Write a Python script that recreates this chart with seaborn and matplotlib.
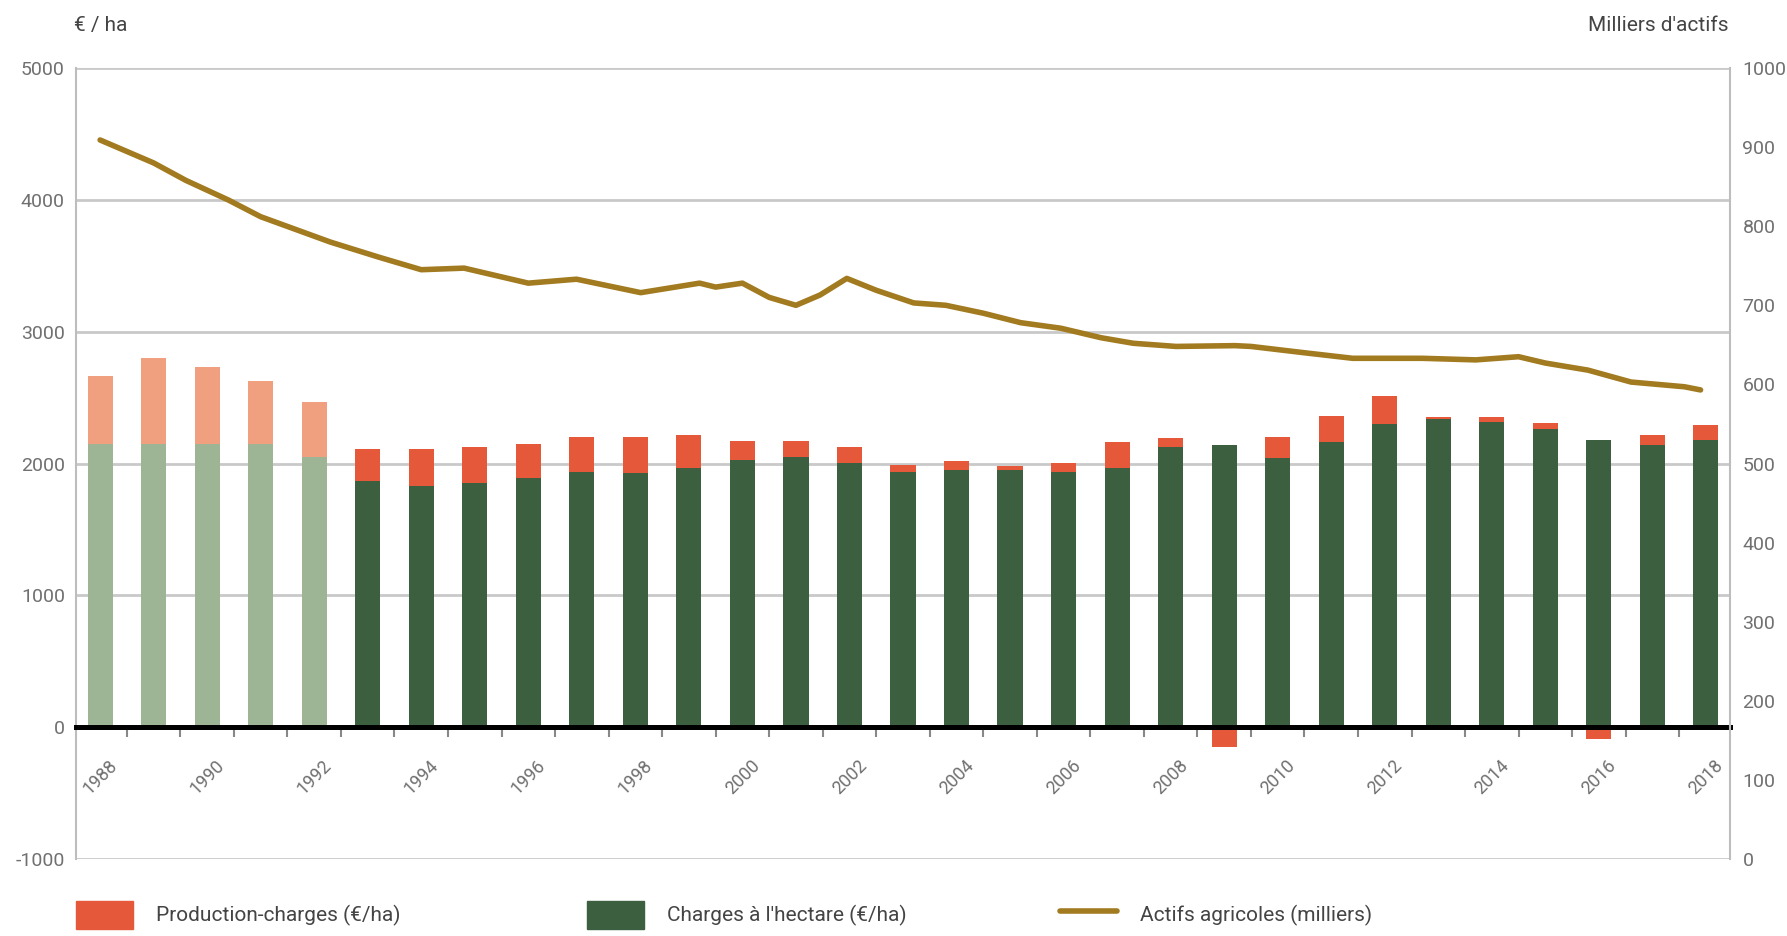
import numpy as np
import pandas as pd
import matplotlib.pyplot as plt
import seaborn as sns
from matplotlib.patches import Patch
from matplotlib.lines import Line2D

# données
years = np.arange(1988, 2019)
charges = [2150, 2150, 2150, 2150, 2048, 1871, 1833, 1851, 1891, 1934,
           1929, 1965, 2028, 2053, 2005, 1934, 1947, 1952, 1934, 1965,
           2124, 2142, 2043, 2162, 2300, 2340, 2315, 2265, 2180, 2144, 2180]
solde = [510, 650, 580, 475, 420, 240, 275, 275, 255, 270,
         270, 250, 140, 115, 120, 55, 75, 30, 70, 200,
         70, -150, 155, 200, 210, 10, 35, 45, -90, 70, 115]

actifs_x = [1988.0, 1989.0, 1989.6, 1990.4, 1991.0, 1992.3, 1993.2, 1994.0,
            1994.8, 1996.0, 1996.9, 1998.1, 1999.2, 1999.5, 2000.0, 2000.5,
            2001.0, 2001.45, 2001.95, 2002.5, 2003.2, 2003.8, 2004.5, 2005.2,
            2005.95, 2006.7, 2007.3, 2008.1, 2009.2, 2009.5, 2010.5, 2011.4,
            2012.7, 2013.7, 2014.5, 2015.0, 2015.8, 2016.6, 2017.6, 2017.9]
actifs = [909, 880, 858, 833, 812, 780, 761, 745,
          747, 728, 733, 716, 728, 723, 728, 710,
          700, 713, 734, 719, 703, 700, 690, 678,
          671, 659, 652, 648, 649, 648, 640, 633,
          633, 631, 635, 627, 618, 603, 597, 593]

ORANGE = "#E5593A"
PALE_ORANGE = "#F0A07E"
GREEN = "#3B5F3F"
PALE_GREEN = "#9DB495"
GOLD = "#A27A1F"
GRAY = "#707070"

sns.set_style("white")
plt.rcParams['font.family'] = ['Roboto', 'DejaVu Sans']
plt.rcParams['axes.unicode_minus'] = False

df = pd.DataFrame({'annee': years, 'charges': charges, 'solde': solde})
# orange sous le vert : hauteur totale si positif, sinon barre négative
df['haut_orange'] = np.where(df.solde >= 0, df.charges + df.solde, df.solde)

fig = plt.figure(figsize=(17.87, 9.36), dpi=100)
ax = fig.add_axes([0.04253, 0.08226, 0.92557, 0.84509])

sns.barplot(data=df, x='annee', y='haut_orange', native_scale=True, width=0.47,
            color=ORANGE, saturation=1, errorbar=None, linewidth=0, ax=ax)
sns.barplot(data=df, x='annee', y='charges', native_scale=True, width=0.47,
            color=GREEN, saturation=1, errorbar=None, linewidth=0, ax=ax)

# 1988-1992 en couleurs claires
for p in ax.containers[0][:5]:
    p.set_facecolor(PALE_ORANGE)
for p in ax.containers[1][:5]:
    p.set_facecolor(PALE_GREEN)

ax.set_xlim(1987.55, 2018.45)
ax.set_ylim(-1000, 5000)
ax.set_yticks(range(-1000, 5001, 1000))
ax.set_xticks(range(1988, 2019, 2))
ax.set_xticklabels([str(y) for y in range(1988, 2019, 2)])
ax.set_xticks(np.arange(1988.5, 2018, 1), minor=True)
ax.set_xlabel("")
ax.set_ylabel("")
ax.set_axisbelow(True)
ax.yaxis.grid(True, color="#C9C9C9", linewidth=2)
ax.xaxis.grid(False)

ax.spines['top'].set_visible(False)
ax.spines['right'].set_visible(False)
ax.spines['left'].set_color("#BDBDBD")
ax.spines['left'].set_linewidth(1.5)
ax.spines['bottom'].set_position(('data', 0))
ax.spines['bottom'].set_color("black")
ax.spines['bottom'].set_linewidth(3.6)

ax.tick_params(axis='x', which='major', bottom=True, length=0, pad=21,
               labelsize=13, labelcolor=GRAY, labelrotation=45)
ax.tick_params(axis='x', which='minor', bottom=True, length=7, width=1.5,
               color="#888888", direction='out')
ax.tick_params(axis='y', left=False, length=0, pad=8, labelsize=14, labelcolor=GRAY)

# axe de droite : actifs agricoles
ax2 = ax.twinx()
sns.lineplot(x=actifs_x, y=actifs, ax=ax2, color=GOLD, linewidth=4, sort=False)
ax2.set_ylim(0, 1000)
ax2.set_yticks(range(0, 1001, 100))
ax2.set_xlim(1987.55, 2018.45)
ax2.set_ylabel("")
for s in ['top', 'left', 'bottom']:
    ax2.spines[s].set_visible(False)
ax2.spines['right'].set_color("#BDBDBD")
ax2.spines['right'].set_linewidth(1.5)
ax2.tick_params(axis='y', right=True, length=0, pad=9, labelsize=14, labelcolor=GRAY)
ax2.grid(False)

fig.text(0.0414, 0.973, "€ / ha", fontsize=15, color="#444444", va='center', ha='left')
fig.text(0.9675, 0.973, "Milliers d'actifs", fontsize=15, color="#444444",
         va='center', ha='right')

leg_kw = dict(loc='center left', frameon=False, fontsize=15, borderpad=0,
              borderaxespad=0, handlelength=2.75, handleheight=1.7,
              handletextpad=1.1, labelcolor="#444444")
fig.legend(handles=[Patch(color=ORANGE)], labels=["Production-charges (€/ha)"],
           bbox_to_anchor=(0.0425, 0.0224), **leg_kw)
fig.legend(handles=[Patch(color=GREEN)], labels=["Charges à l'hectare (€/ha)"],
           bbox_to_anchor=(0.3285, 0.0224), **leg_kw)
fig.legend(handles=[Line2D([0], [0], color=GOLD, linewidth=4)],
           labels=["Actifs agricoles (milliers)"],
           bbox_to_anchor=(0.593, 0.0224), **leg_kw)

fig.savefig("out.png", dpi=100)
